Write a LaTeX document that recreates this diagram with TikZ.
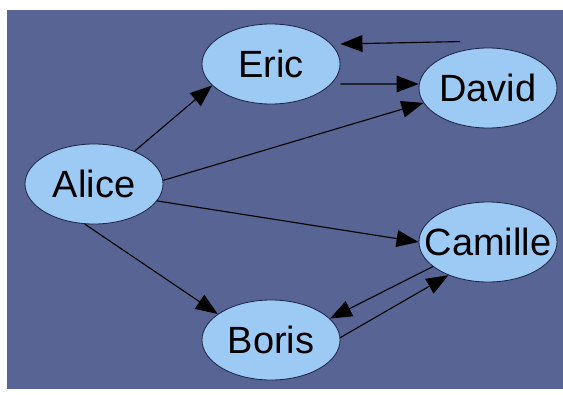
\documentclass[tikz,border=0pt]{standalone}
\usepackage{fontspec}
\setmainfont{Liberation Sans}
\usetikzlibrary{arrows.meta, shapes.geometric}

\definecolor{paper}{RGB}{88,100,148}
\definecolor{bubble}{RGB}{157,201,245}
\definecolor{rim}{RGB}{30,40,70}

\begin{document}
\begin{tikzpicture}[
x=0.025cm, y=-0.025cm,
person/.style={
	ellipse,
	draw=rim,
	line width=0.6pt,
	fill=bubble,
	inner sep=0pt,
	minimum width=3.45cm,
	minimum height=2cm,
	font=\fontsize{27}{32}\selectfont
},
line/.style={
	draw, line width=0.8pt, -{Triangle[length=5.5mm, width=4.2mm]}
}
]

% Background
\useasboundingbox (0,0) rectangle (563,394);
\fill[paper] (7,10) rectangle (563,389);

% Nodes
\node[person] (eric) at (271,64) {Eric};
\node[person] (david) at (488,88) {David};
\node[person] (alice) at (94,184) {Alice};
\node[person, inner xsep=-0.37cm] (camille) at (488,242) {Camille};
\node[person] (boris) at (271,340) {Boris};

% Lines
\draw[line] (alice.39) -- (eric.200);
\draw[line] (alice.3) -- (david.193);
\draw[line] (alice.345) -- (camille.180);
\draw[line] (alice.257) -- (boris.154);
\draw[line] ([yshift=-0.5cm]eric.east) -- ([yshift=0.1cm]david.west);
\draw[line] ([shift={(-0.7cm,0.15cm)}]david.north) -- ([yshift=0.5cm]eric.east);
\draw[line] (camille.204) -- (boris.20);
\draw[line] (boris.2) -- (camille.220);

\end{tikzpicture}
\end{document}
